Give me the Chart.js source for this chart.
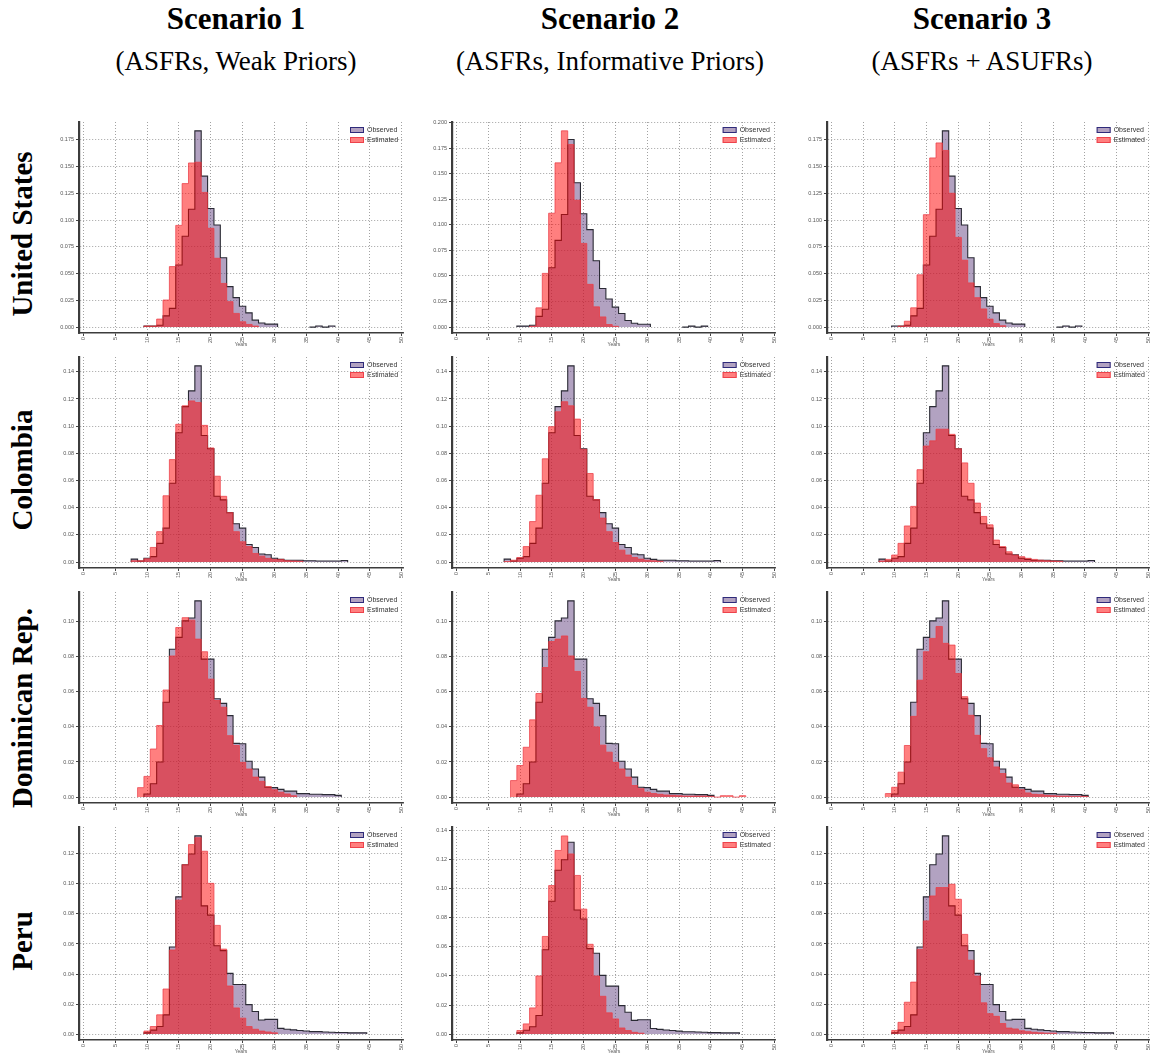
<!DOCTYPE html>
<html><head><meta charset="utf-8">
<script src="https://cdn.jsdelivr.net/npm/chart.js@4.4.1/dist/chart.umd.min.js"></script>
<style>
html,body{margin:0;padding:0;background:#fff;}
body{width:1156px;height:1055px;position:relative;overflow:hidden;font-family:"Liberation Serif","DejaVu Serif",serif;color:#000;}
.ttl{position:absolute;width:420px;text-align:center;font-weight:bold;font-size:31px;line-height:31px;white-space:nowrap;}
.sub{position:absolute;width:420px;text-align:center;font-size:27px;line-height:27px;white-space:nowrap;}
.rowlab{position:absolute;width:320px;height:34px;line-height:34px;text-align:center;font-weight:bold;font-size:29px;white-space:nowrap;transform:rotate(-90deg);}
canvas{position:absolute;}
</style></head><body>
<script>
// ---------------- data ----------------
const scenarios = ['Scenario 1','Scenario 2','Scenario 3'];
const scenarioNotes = ['(ASFRs, Weak Priors)','(ASFRs, Informative Priors)','(ASFRs + ASUFRs)'];
const countries = ['United States','Colombia','Dominican Rep.','Peru'];
const seriesLabels = ['Observed','Estimated'];
const xTicks = [0,5,10,15,20,25,30,35,40,45,50];
const xTitle = 'Years';
const yStep = [0.025, 0.02, 0.02, 0.02];
const yDecimals = [3, 2, 2, 2];

// histogram bins have width 1, centred on integer years; each series starts at its "Start" bin
const usObsStart = 10;
const usObs = [0.001,0.001,0.0018,0.0105,0.0175,0.058,0.0848,0.11,0.1833,0.141,0.1108,0.0953,0.0648,0.0378,0.0275,0.0195,0.0133,0.0065,0.0038,0.0028,0.0028,0,0,0,0,0,0,0.001,0,0.001];
const usEst1Start = 10;
const usEst1 = [0.001,0.001,0.0075,0.0253,0.0565,0.095,0.134,0.1533,0.154,0.1258,0.0923,0.0643,0.0408,0.0238,0.0128,0.005,0.0025,0.001];
const usEst2Start = 12;
const usEst2 = [0.0008,0.0188,0.0525,0.1113,0.1605,0.1918,0.1785,0.124,0.0818,0.0418,0.0198,0.01,0.0025,0.0008];
const usEst3Start = 11;
const usEst3 = [0.001,0.0055,0.018,0.0488,0.105,0.158,0.172,0.165,0.125,0.0838,0.0625,0.0413,0.0275,0.017,0.0075,0.0033,0.0013];

const colObsStart = 8;
const colObs = [0.0022,0.0008,0.0028,0.004,0.0138,0.025,0.058,0.0952,0.1144,0.126,0.1444,0.0932,0.0834,0.0484,0.0458,0.0364,0.0282,0.025,0.013,0.0108,0.006,0.0054,0.0028,0.002,0.0014,0.0014,0.0014,0.001,0.001,0.0008,0.0008,0.0008,0.0008,0.0012];
const colEst1Start = 8;
const colEst1 = [0.001,0.001,0.0024,0.0108,0.0224,0.0488,0.0754,0.1014,0.115,0.1186,0.1174,0.1006,0.084,0.0632,0.0484,0.0364,0.0224,0.015,0.0114,0.0064,0.0044,0.0028,0.002,0.002,0.001,0.0008,0.0006];
const colEst2Start = 8;
const colEst2 = [0.0004,0.0014,0.0034,0.0114,0.0298,0.0492,0.076,0.0996,0.1106,0.118,0.115,0.1052,0.083,0.0652,0.046,0.0324,0.0224,0.0144,0.0088,0.0052,0.0034,0.0022,0.0014,0.001,0.0006];
const colEst3Start = 8;
const colEst3 = [0.0008,0.002,0.0052,0.0138,0.0266,0.041,0.068,0.0854,0.0892,0.0978,0.0978,0.094,0.0834,0.073,0.058,0.0434,0.0336,0.0274,0.0162,0.0114,0.0076,0.0052,0.004,0.0028,0.002,0.0014,0.001,0.0008,0.0006];

const domObsStart = 10;
const domObs = [0.0018,0.0076,0.02,0.054,0.0842,0.091,0.1004,0.102,0.1118,0.0786,0.0786,0.056,0.0534,0.0464,0.0306,0.0304,0.0204,0.016,0.0114,0.0056,0.0054,0.0044,0.0034,0.0034,0.002,0.002,0.0016,0.0016,0.0014,0.0014,0.001];
const domEst1Start = 9;
const domEst1 = [0.0054,0.0118,0.0274,0.0408,0.061,0.0804,0.0966,0.1022,0.1008,0.09,0.0828,0.0672,0.055,0.0512,0.035,0.0294,0.0198,0.016,0.0114,0.009,0.006,0.0042,0.0028,0.0018,0.0008];
const domEst2Start = 9;
const domEst2 = [0.0094,0.018,0.0284,0.044,0.059,0.0738,0.0886,0.09,0.0918,0.0804,0.0716,0.0562,0.0512,0.04,0.0296,0.0256,0.0198,0.016,0.0114,0.0066,0.0048,0.0028,0.002,0.0016,0.0012,0.001,0.0008,0.0006,0.0006,0.0006,0.0006,0.0004,0,0.0008,0.0008,0,0.0008];
const domEst3Start = 9;
const domEst3 = [0.002,0.0056,0.0142,0.0294,0.046,0.0666,0.0828,0.0904,0.0972,0.0876,0.0866,0.0704,0.0572,0.0466,0.0352,0.0276,0.0224,0.0172,0.0134,0.008,0.007,0.0042,0.0024,0.0016,0.0014,0.001,0.0008,0.0006,0.0006,0.0004,0.0004,0.0004];

const peruObsStart = 10;
const peruObs = [0.0008,0.0026,0.005,0.0128,0.058,0.0914,0.1128,0.12,0.132,0.0854,0.0792,0.0588,0.0556,0.0404,0.033,0.033,0.0196,0.015,0.0094,0.0098,0.0098,0.0038,0.0032,0.0028,0.0024,0.002,0.0016,0.0016,0.0014,0.0012,0.001,0.001,0.0008,0.0008,0.0008];
const peruEst1Start = 10;
const peruEst1 = [0.002,0.005,0.0128,0.03,0.056,0.0892,0.1128,0.1262,0.1308,0.1218,0.1004,0.0724,0.0566,0.032,0.0174,0.0106,0.005,0.0032,0.002,0.0014,0.0008];
const peruEst2Start = 10;
const peruEst2 = [0.0024,0.007,0.018,0.04,0.0672,0.1022,0.1264,0.1364,0.124,0.1092,0.086,0.0618,0.04,0.026,0.0146,0.0104,0.0042,0.0024,0.0012,0.0006];
const peruEst3Start = 10;
const peruEst3 = [0.0024,0.0078,0.0212,0.0346,0.0564,0.0754,0.092,0.0976,0.0976,0.0998,0.0898,0.0664,0.0492,0.0386,0.0208,0.0136,0.0118,0.007,0.004,0.0034,0.0022,0.0016,0.0012,0.0008,0.0006,0.0006];

// ---------------- assembly ----------------
const observed = [
  [usObsStart, usObs], [colObsStart, colObs], [domObsStart, domObs], [peruObsStart, peruObs]
];
const estimated = [
  [[usEst1Start, usEst1], [usEst2Start, usEst2], [usEst3Start, usEst3]],
  [[colEst1Start, colEst1], [colEst2Start, colEst2], [colEst3Start, colEst3]],
  [[domEst1Start, domEst1], [domEst2Start, domEst2], [domEst3Start, domEst3]],
  [[peruEst1Start, peruEst1], [peruEst2Start, peruEst2], [peruEst3Start, peruEst3]]
];

// layout (pixels)
const colGeom = [
  {left:30, width:380, axisW:49, padR:7, center:236},
  {left:410, width:372, axisW:42, padR:5, center:610},
  {left:782, width:374, axisW:45, padR:3, center:982}
];
const rowGeom = [
  {areaTop:122, areaBottom:333, center:234},
  {areaTop:357, areaBottom:568, center:470},
  {areaTop:592, areaBottom:803, center:708},
  {areaTop:827, areaBottom:1040, center:941}
];
const XAXIS_H = 15, PAD_T = 7;

// titles
scenarios.forEach((s,i)=>{
  const t = document.createElement('div'); t.className='ttl';
  t.style.left=(colGeom[i].center-210)+'px'; t.style.top='3px'; t.textContent=s; document.body.appendChild(t);
  const u = document.createElement('div'); u.className='sub';
  u.style.left=(colGeom[i].center-210)+'px'; u.style.top='48px'; u.textContent=scenarioNotes[i]; document.body.appendChild(u);
});
countries.forEach((c,r)=>{
  const d = document.createElement('div'); d.className='rowlab';
  d.style.left=(22-160)+'px'; d.style.top=(rowGeom[r].center-17)+'px'; d.textContent=c; document.body.appendChild(d);
});

function stepPoints(start, vals){
  const pts=[{x:start-0.5,y:0}];
  vals.forEach((v,i)=>pts.push({x:start+i-0.5,y:v}));
  pts.push({x:start+vals.length-0.5,y:0});
  return pts;
}

const OBS_FILL='rgba(95,60,125,0.48)', OBS_LINE='#2a2a34', OBS_LEG='#2e2a7a';
const EST_FILL='rgba(255,0,0,0.5)', EST_LINE='rgba(235,60,70,0.75)', EST_LEG='rgba(235,60,70,0.9)';

const legendPlugin = {
  id:'boxLegend',
  afterDatasetsDraw(chart){
    const {ctx, chartArea:a} = chart;
    const ds = chart.data.datasets;
    const order = [1,0]; // Observed first, Estimated second
    ctx.save();
    ctx.font = '7px "Liberation Sans", Arial, sans-serif';
    ctx.textBaseline='middle';
    order.forEach((k,i)=>{
      const d = ds[k];
      const bx = a.right-53, by = a.top+5+i*10;
      ctx.fillStyle='#fff'; ctx.fillRect(bx,by,14,6);
      ctx.fillStyle=d.backgroundColor; ctx.fillRect(bx,by,14,6);
      ctx.strokeStyle=d.legendLine; ctx.lineWidth=1; ctx.strokeRect(bx+0.5,by+0.5,13,5);
      ctx.fillStyle='#333'; ctx.fillText(d.label, bx+17, by+3.5);
    });
    ctx.restore();
  }
};

const hideZero = ctx => (ctx.p0.parsed.y===0 && ctx.p1.parsed.y===0) ? 'rgba(0,0,0,0)' : undefined;

for(let r=0;r<4;r++){
  for(let c=0;c<3;c++){
    const cg=colGeom[c], rg=rowGeom[r];
    const cv=document.createElement('canvas');
    const top=rg.areaTop-PAD_T, h=rg.areaBottom+XAXIS_H-top;
    cv.width=cg.width; cv.height=h;
    cv.style.left=cg.left+'px'; cv.style.top=top+'px';
    cv.style.width=cg.width+'px'; cv.style.height=h+'px';
    document.body.appendChild(cv);

    const [os, ov] = observed[r];
    const [es, ev] = estimated[r][c];
    const M = Math.max(...ov, ...ev);
    const step = yStep[r];
    const yt=[]; for(let v=0; v<=1.045*M+1e-9; v+=step) yt.push(+v.toFixed(4));
    const dec = yDecimals[r];
    const gridCol='rgba(60,60,60,0.6)';

    new Chart(cv, {
      type:'line',
      data:{datasets:[
        {label:seriesLabels[1], data:stepPoints(es, ev), stepped:true, fill:'origin',
         backgroundColor:EST_FILL, borderColor:EST_LINE, borderWidth:1, pointRadius:0, order:1,
         legendLine:EST_LEG, segment:{borderColor:hideZero}},
        {label:seriesLabels[0], data:stepPoints(os, ov), stepped:true, fill:'origin',
         backgroundColor:OBS_FILL, borderColor:OBS_LINE, borderWidth:1.1, pointRadius:0, order:2,
         legendLine:OBS_LEG, segment:{borderColor:hideZero}}
      ]},
      options:{
        responsive:false, animation:false, devicePixelRatio:1,
        layout:{padding:{top:PAD_T, right:cg.padR, left:0, bottom:0}},
        plugins:{legend:{display:false}, tooltip:{enabled:false}},
        scales:{
          x:{type:'linear', min:-0.7, max:50.2,
             afterBuildTicks:s=>{ s.ticks = xTicks.map(v=>({value:v})); },
             afterFit:s=>{ s.height = XAXIS_H; },
             grid:{color:gridCol, lineWidth:0.8, drawTicks:true, tickLength:3, tickColor:'#444', tickWidth:1},
             border:{display:true, color:'#3c3c3c', width:1.5, dash:[1,2]},
             ticks:{font:{size:5.5, family:'"Liberation Sans", Arial'}, color:'#555', maxRotation:90, minRotation:90, padding:1, autoSkip:false},
             title:{display:true, text:xTitle, font:{size:5, family:'"Liberation Sans", Arial'}, color:'#555', padding:0}
          },
          y:{type:'linear', min:-0.03*M, max:1.045*M,
             afterBuildTicks:s=>{ s.ticks = yt.map(v=>({value:v})); },
             afterFit:s=>{ s.width = cg.axisW; },
             grid:{color:gridCol, lineWidth:0.8, drawTicks:true, tickLength:3, tickColor:'#444', tickWidth:1},
             border:{display:true, color:'#3c3c3c', width:2.2, dash:[1,2]},
             ticks:{font:{size:5.5, family:'"Liberation Sans", Arial'}, color:'#555', padding:2, autoSkip:false,
                    callback:v=>Number(v).toFixed(dec)}
          }
        }
      },
      plugins:[legendPlugin]
    });
  }
}
</script>
</body></html>
